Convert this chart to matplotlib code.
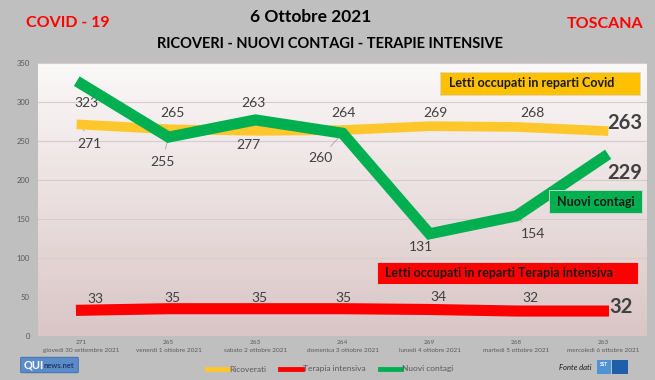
import numpy as np
import matplotlib
matplotlib.use("Agg")
import matplotlib.pyplot as plt
from matplotlib.lines import Line2D
from matplotlib.patches import Rectangle, FancyBboxPatch

plt.rcParams["font.family"] = ["Lato", "DejaVu Sans"]

# =========================================================
# DATI
# =========================================================

giorni = [
    "giovedì 30 settembre 2021", "venerdì 1 ottobre 2021", "sabato 2 ottobre 2021",
    "domenica 3 ottobre 2021", "lunedì 4 ottobre 2021", "martedì 5 ottobre 2021",
    "mercoledì 6 ottobre 2021",
]
ricoverati = [271, 265, 263, 264, 269, 268, 263]
terapia    = [33, 35, 35, 35, 34, 32, 32]
contagi    = [323, 255, 277, 260, 131, 154, 229]
y_ticks    = [0, 50, 100, 150, 200, 250, 300, 350]

# posizioni etichette (offset in pixel, y verso il basso)
ric_off = [(7.5, 19), (3.5, -16), (-2.5, -28), (0.5, -17), (5.5, -13), (15.5, -14), (21.5, -8)]
con_off = [(4.5, 19), (-6.5, 25), (-7.5, 25), (-22.5, 25), (-8.5, 13), (16.5, 18), (21.5, 16)]
ter_off = [(13.5, -11), (3.5, -11), (3.5, -11), (0.5, -11), (8.5, -12), (13.5, -13), (18, -4)]

GIALLO = "#ffc72c"
VERDE  = "#00b050"
ROSSO  = "#ff0000"
GRIGIO = "#595959"
SCURO  = "#404040"

# =========================================================
# FIGURA
# =========================================================

W, H = 655, 380
fig = plt.figure(figsize=(W / 100, H / 100), dpi=100, facecolor="#bfbfbf")
ax = fig.add_axes([38 / W, 1 - 336 / H, 609 / W, 273 / H])
ax.set_facecolor("none")

# sfondo sfumato
top = np.array([0.985, 0.975, 0.975])
bot = np.array([0.855, 0.775, 0.775])
t = np.linspace(0, 1, 256)[:, None]
grad = (top * (1 - t) + bot * t)[:, None, :]
ax.imshow(grad, extent=[0, 1, 0, 1], transform=ax.transAxes, aspect="auto", zorder=0)

x = np.arange(len(giorni))
ax.set_xlim(-0.5, 6.5)
ax.set_ylim(0, 350)
for v in y_ticks[1:]:
    ax.axhline(v, color="#d6cccc", lw=0.8, zorder=0.5)

ax.plot(x, ricoverati, color=GIALLO, lw=7, solid_capstyle="projecting", zorder=3)
ax.plot(x, terapia, color=ROSSO, lw=8, solid_capstyle="projecting", zorder=3)
ax.plot(x, contagi, color=VERDE, lw=8, solid_capstyle="projecting",
        solid_joinstyle="miter", zorder=4)

for sp in ax.spines.values():
    sp.set_visible(False)
ax.tick_params(length=0)
ax.set_yticks(y_ticks)
ax.set_yticklabels([str(v) for v in y_ticks], fontsize=5.5, color=GRIGIO)
ax.tick_params(axis="y", pad=6)
ax.set_xticks(x)
ax.set_xticklabels([f"{r}\n{g}" for r, g in zip(ricoverati, giorni)],
                   fontsize=4.6, color=GRIGIO, linespacing=1.6)
ax.tick_params(axis="x", pad=3)

# etichette dati
def etichette(valori, offsets, senza_leader=()):
    n = len(valori)
    for i, (v, (dx, dy)) in enumerate(zip(valori, offsets)):
        ultimo = i == n - 1
        props = None
        if not ultimo and i not in senza_leader:
            props = dict(arrowstyle="-", color="#a6a6a6", lw=0.6, shrinkA=3, shrinkB=0)
        ax.annotate(str(v), xy=(i, v), xytext=(dx, -dy), textcoords="offset pixels",
                    ha="center", va="center",
                    fontsize=14.5 if ultimo else 10,
                    fontweight="bold" if ultimo else "normal",
                    color=SCURO, arrowprops=props, zorder=2)

etichette(ricoverati, ric_off)
etichette(contagi, con_off, senza_leader=(4,))
etichette(terapia, ter_off, senza_leader=(0, 1, 2))

# riquadri descrittivi
def riquadro(x0, y0, w, h, colore, testo, tx):
    ax.add_patch(Rectangle((x0, y0), w, h, transform=ax.transAxes, facecolor=colore,
                           edgecolor="#d9d9d9", lw=0.6, zorder=6))
    ax.text(tx, y0 + h / 2, testo, transform=ax.transAxes, ha="left", va="center",
            fontsize=9, fontweight="bold", color="#1a1a1a", zorder=7)

riquadro(0.660, 0.883, 0.328, 0.084, "#ffc000", "Letti occupati in reparti Covid", 0.675)
riquadro(0.839, 0.452, 0.153, 0.081, VERDE, "Nuovi contagi", 0.852)
riquadro(0.557, 0.189, 0.429, 0.083, ROSSO, "Letti occupati in reparti Terapia intensiva", 0.570)

# titoli
fig.text(68 / W, 1 - 23 / H, "COVID - 19", color=ROSSO, fontsize=11.5, fontweight="bold",
         ha="center", va="center")
fig.text(605 / W, 1 - 24 / H, "TOSCANA", color=ROSSO, fontsize=11.5, fontweight="bold",
         ha="center", va="center")
fig.text(311 / W, 1 - 17 / H, "6 Ottobre 2021", color="black", fontsize=12.5, fontweight="bold",
         ha="center", va="center")
fig.text(330 / W, 1 - 44 / H, "RICOVERI - NUOVI CONTAGI - TERAPIE INTENSIVE", color="black",
         fontsize=10.5, fontweight="bold", ha="center", va="center")

# legenda
handles = [Line2D([], [], color=GIALLO, lw=3.5),
           Line2D([], [], color=ROSSO, lw=3.5),
           Line2D([], [], color=VERDE, lw=3.5)]
fig.legend(handles, ["Ricoverati", "Terapia intensiva", "Nuovi contagi"],
           loc="center", bbox_to_anchor=(330 / W, 1 - 369 / H), ncol=3, frameon=False,
           fontsize=6, labelcolor=GRIGIO, handlelength=2.6, handletextpad=0.1,
           columnspacing=1.7)

# loghi
fig.patches.append(FancyBboxPatch((22 / W, 1 - 372 / H), 55 / W, 14 / H,
                                  boxstyle="round,pad=0.002", transform=fig.transFigure,
                                  facecolor="#5b8bc9", edgecolor="#3b6aa8", lw=0.6))
fig.text(24 / W, 1 - 365 / H, "QUI", color="white", fontsize=8, fontweight="bold",
         ha="left", va="center")
fig.text(44 / W, 1 - 366 / H, "news.net", color="#1f3b66", fontsize=5.5, fontweight="bold",
         ha="left", va="center")
fig.text(575 / W, 1 - 368 / H, "Fonte dati", color="#1a1a1a", fontsize=5.5, style="italic",
         ha="center", va="center")
fig.patches.append(Rectangle((597 / W, 1 - 374 / H), 14 / W, 14 / H, transform=fig.transFigure,
                             facecolor="#4f93d6", edgecolor="none"))
fig.patches.append(Rectangle((612 / W, 1 - 374 / H), 16 / W, 14 / H, transform=fig.transFigure,
                             facecolor="#1f5fa8", edgecolor="none"))
fig.text(604 / W, 1 - 364 / H, "SST", color="white", fontsize=3.5, fontweight="bold",
         ha="center", va="center")

fig.savefig("out.png", dpi=100, facecolor=fig.get_facecolor())
